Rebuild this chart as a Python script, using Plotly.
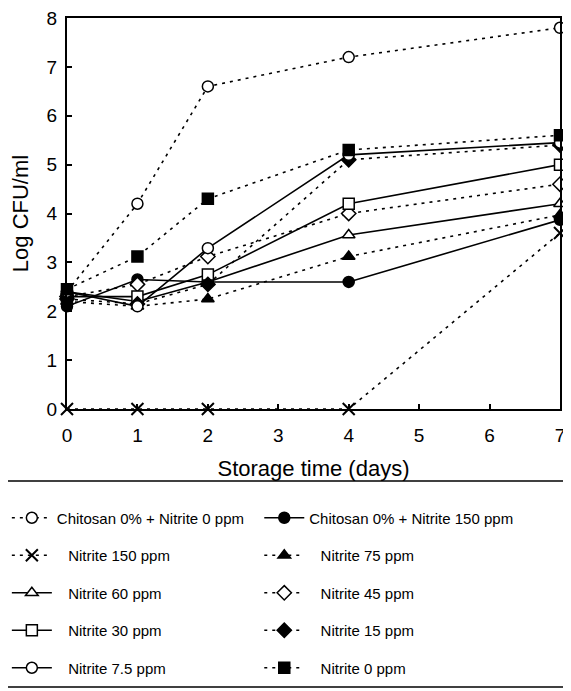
import plotly.graph_objects as go

days = [0, 1, 2, 4, 7]

names = [
    "Chitosan 0% + Nitrite 0 ppm",
    "Chitosan 0% + Nitrite 150 ppm",
    "Nitrite 150 ppm",
    "Nitrite 75 ppm",
    "Nitrite 60 ppm",
    "Nitrite 45 ppm",
    "Nitrite 30 ppm",
    "Nitrite 15 ppm",
    "Nitrite 7.5 ppm",
    "Nitrite 0 ppm",
]

c0_n0 = [2.4, 4.2, 6.6, 7.2, 7.8]
c0_n150 = [2.1, 2.65, 2.6, 2.6, 3.87]
n150 = [0, 0, 0, 0, 3.6]
n75 = [2.2, 2.1, 2.25, 3.12, 3.97]
n60 = [2.4, 2.2, 2.6, 3.56, 4.2]
n45 = [2.3, 2.55, 3.12, 4.0, 4.6]
n30 = [2.3, 2.3, 2.75, 4.2, 5.0]
n15 = [2.25, 2.15, 2.55, 5.1, 5.4]
n7_5 = [2.4, 2.1, 3.29, 5.2, 5.45]
n0 = [2.45, 3.12, 4.3, 5.3, 5.6]

series = [c0_n0, c0_n150, n150, n75, n60, n45, n30, n15, n7_5, n0]

# style per series: (symbol, filled, dash)
styles = [
    ("circle", False, "dot"),
    ("circle", True, "solid"),
    ("x-thin", True, "dot"),
    ("triangle-up", True, "dot"),
    ("triangle-up", False, "solid"),
    ("diamond", False, "dot"),
    ("square", False, "solid"),
    ("diamond", True, "dot"),
    ("circle", False, "solid"),
    ("square", True, "dot"),
]

fig = go.Figure()
NB = "\u00a0"
for i, (name, vals, (sym, filled, dash)) in enumerate(zip(names, series, styles)):
    size = 12 if sym == "x-thin" else 11
    label = name if i < 2 else NB * 2 + "\u2009" + name
    fig.add_trace(go.Scatter(
        x=days, y=vals, name=label, mode="lines+markers",
        line=dict(color="black", width=1.6,
                  dash="3px,5px" if dash == "dot" else "solid"),
        marker=dict(symbol=sym, size=size,
                    color="black" if filled else "white",
                    line=dict(color="black", width=2 if sym == "x-thin" else 1.5)),
        cliponaxis=False,
        legend="legend" if i % 2 == 0 else "legend2",
        legendgroup=f"g{i}",
    ))

font_family = "Liberation Sans, Arial, sans-serif"

legend_common = dict(
    y=-0.2366, yanchor="top", xanchor="left",
    orientation="v", tracegroupgap=15, itemwidth=40,
    font=dict(size=15, family=font_family, color="black"),
    bgcolor="rgba(0,0,0,0)", itemsizing="trace", itemclick=False,
)

# the page body adds an 8px offset, so the figure is sized to fit the window
fig.update_layout(
    width=563, height=683,
    margin=dict(l=59, r=11, t=10, b=282, autoexpand=False),
    paper_bgcolor="white", plot_bgcolor="white",
    font=dict(family=font_family, color="black"),
    showlegend=True,
    xaxis=dict(range=[0, 7], tickmode="array", tickvals=[0, 1, 2, 3, 4, 5, 6, 7],
               ticks="inside", ticklen=5, tickwidth=1.5, tickcolor="black",
               showline=True, linewidth=2, linecolor="black", mirror=True,
               showgrid=False, zeroline=False, ticklabelstandoff=8,
               ticklabeloverflow="allow",
               tickfont=dict(size=19),
               title=dict(text="Storage time (days)", font=dict(size=22), standoff=16)),
    yaxis=dict(range=[0, 8], tickmode="array", tickvals=list(range(9)),
               ticks="inside", ticklen=5, tickwidth=1.5, tickcolor="black",
               showline=True, linewidth=2, linecolor="black", mirror=True,
               showgrid=False, zeroline=False, ticklabelstandoff=4,
               ticklabeloverflow="allow",
               tickfont=dict(size=19),
               title=dict(text="Log CFU/ml", font=dict(size=22), standoff=18)),
    legend=dict(x=-0.122, **legend_common),
    legend2=dict(x=0.390, **legend_common),
    shapes=[
        dict(type="line", xref="paper", yref="paper",
             x0=-0.136, x1=1.023, y0=-0.1841, y1=-0.1841,
             line=dict(color="black", width=1.5)),
        dict(type="line", xref="paper", yref="paper",
             x0=-0.136, x1=1.023, y0=-0.711, y1=-0.711,
             line=dict(color="black", width=1.5)),
    ],
)

fig.write_html("out.html")
